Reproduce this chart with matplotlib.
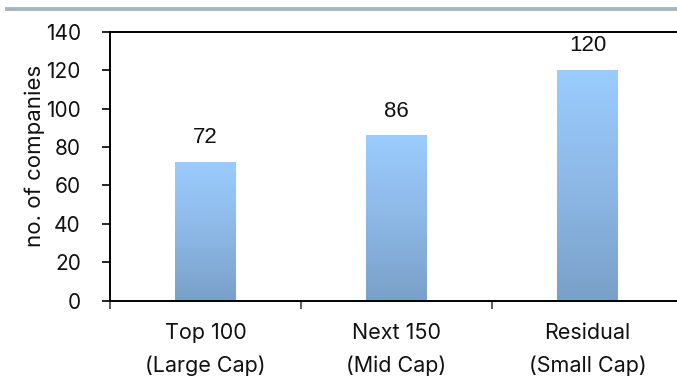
import matplotlib.pyplot as plt
import numpy as np
from matplotlib import colors
from matplotlib.lines import Line2D

categories = ["Top 100\n(Large Cap)", "Next 150\n(Mid Cap)", "Residual\n(Small Cap)"]
companies = [72, 86, 120]
y_ticks = [0, 20, 40, 60, 80, 100, 120, 140]

plt.rcParams['font.family'] = ['Inter', 'DejaVu Sans']

W, H = 677, 379
fig = plt.figure(figsize=(W / 100, H / 100), dpi=100)

# axes placed in pixels; the right end runs slightly past the canvas
left, right, top, bottom = 110, 683, 31.7, 300.7
ax = fig.add_axes([left / W, 1 - bottom / H, (right - left) / W, (bottom - top) / H])

x = np.arange(len(categories))
bar_w = 0.315

# vertical gradient fill for each bar
grad_cmap = colors.LinearSegmentedColormap.from_list('bar_grad', ['#79A0C8', '#8DB8E6', '#9ACCFE'])
gradient = np.linspace(0, 1, 256).reshape(-1, 1)
for xi, val in zip(x, companies):
    ax.imshow(gradient, cmap=grad_cmap, origin='lower', aspect='auto',
              extent=[xi - bar_w / 2, xi + bar_w / 2, 0, val], zorder=2)
    ax.annotate(str(val), (xi, val), xytext=(0, 10), textcoords='offset points',
                ha='center', va='bottom', fontsize=16, color='#111111',
                family=['Liberation Sans', 'DejaVu Sans'])
ax.set_xlim(-0.5, len(categories) - 0.5)
ax.set_ylim(0, 140)

for side in ['left', 'bottom', 'top']:
    ax.spines[side].set_linewidth(1.4)
    ax.spines[side].set_color('black')
ax.spines['right'].set_visible(False)

# category boundaries get the tick marks, labels sit between them
ax.set_xticks(np.arange(-0.5, len(categories), 1.0))
ax.set_xticklabels([])
ax.set_xticks(x, minor=True)
ax.set_xticklabels(categories, minor=True, fontsize=15.5, linespacing=1.75, color='#111111')
ax.tick_params(axis='x', which='major', direction='out', length=6, width=1.2, color='#444444')
ax.tick_params(axis='x', which='minor', length=0, pad=16)

ax.set_yticks(y_ticks)
ax.tick_params(axis='y', direction='out', length=6, width=1.2, labelsize=15,
               pad=15, labelcolor='#111111')

ax.set_ylabel('no. of companies', fontsize=16, color='#111111')
ax.yaxis.set_label_coords(-0.113, 0.54)

# grey rule across the top of the figure
fig.add_artist(Line2D([7 / W, 1], [1 - 9 / H] * 2, color='#A9B5BD', lw=2.8,
                      transform=fig.transFigure))

fig.savefig('out.png', dpi=100)
